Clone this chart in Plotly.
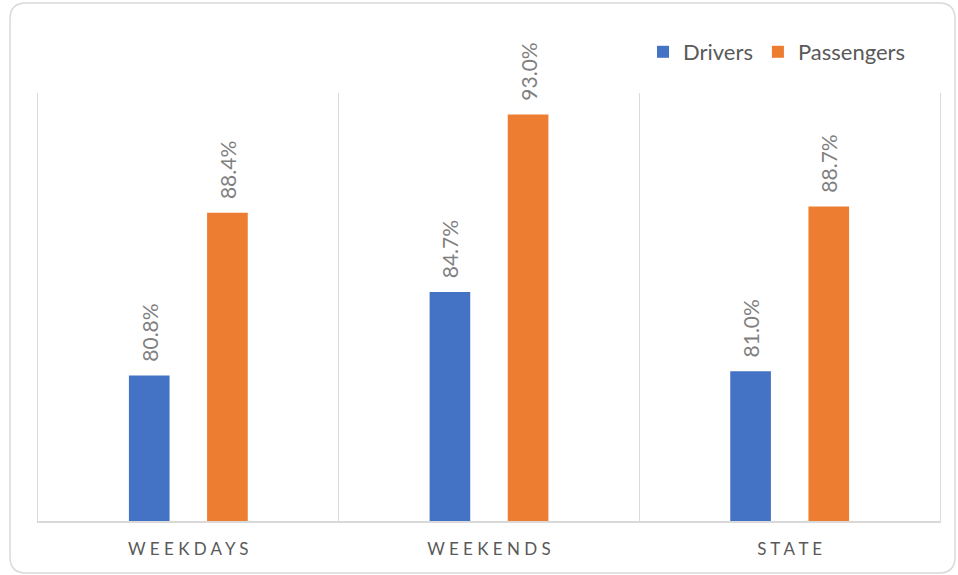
import plotly.graph_objects as go

categories = ["Weekdays", "Weekends", "State"]
category_labels = ["W E E K D A Y S", "W E E K E N D S", "S T A T E"]
drivers = [80.8, 84.7, 81.0]
passengers = [88.4, 93.0, 88.7]

BLUE = "#4472C4"
ORANGE = "#ED7D31"
GRID = "#D9D9D9"
TEXT = "#595959"
FONT = "Lato, 'Open Sans', sans-serif"
PAD = "\u00a0" * 2  # keeps the value labels clear of the bar tops

fig = go.Figure()
for name, vals, color in [("Drivers", drivers, BLUE), ("Passengers", passengers, ORANGE)]:
    fig.add_trace(go.Bar(
        name=name, x=categories, y=vals,
        marker=dict(color=color, line=dict(width=0)),
        text=[f"{PAD}{v:.1f}%" for v in vals],
        textposition="outside", textangle=-90, constraintext="none",
        textfont=dict(size=21, color="#7F7F7F", family=FONT),
        cliponaxis=False,
    ))

W, H = 958, 575
L, R, T, B = 38, 18, 93, 54
pw, ph = W - L - R, H - T - B


def px_x(x):
    return (x - L) / pw


def px_y(y):
    return (H - B - y) / ph


# rounded outer border
x0, x1, y0, y1 = px_x(10), px_x(955), px_y(573), px_y(3)
rx, ry = 16 / pw, 16 / ph
path = (f"M {x0+rx},{y1} L {x1-rx},{y1} Q {x1},{y1} {x1},{y1-ry} "
        f"L {x1},{y0+ry} Q {x1},{y0} {x1-rx},{y0} L {x0+rx},{y0} "
        f"Q {x0},{y0} {x0},{y0+ry} L {x0},{y1-ry} Q {x0},{y1} {x0+rx},{y1} Z")

fig.update_layout(
    width=W, height=H,
    margin=dict(l=L, r=R, t=T, b=B),
    paper_bgcolor="white", plot_bgcolor="white",
    barmode="group", bargap=0.48, bargroupgap=0.48,
    font=dict(family=FONT, color=TEXT),
    showlegend=True,
    legend=dict(
        orientation="h", xref="container", yref="container",
        x=643 / W, xanchor="left", y=1 - 52 / H, yanchor="middle",
        bgcolor="rgba(0,0,0,0)",
        font=dict(size=22, color=TEXT, family=FONT),
        itemwidth=30, traceorder="normal",
    ),
    xaxis=dict(
        type="category", range=[-0.5, 2.5],
        tickvals=categories, ticktext=category_labels,
        tickson="boundaries", ticks="", showgrid=True, gridcolor=GRID, gridwidth=1,
        showline=True, linecolor=GRID, linewidth=2, ticklabelstandoff=12,
        tickfont=dict(size=17, color=TEXT, family=FONT),
    ),
    yaxis=dict(
        range=[74, 94], showticklabels=False, showgrid=False, zeroline=False,
        showline=True, mirror=True, linecolor=GRID, linewidth=1, ticks="",
    ),
    shapes=[dict(type="path", xref="paper", yref="paper", path=path,
                 line=dict(color=GRID, width=1.5), layer="below")],
)

fig.write_html("out.html", config={"displayModeBar": False},
               post_script="document.body.style.margin='0';")
